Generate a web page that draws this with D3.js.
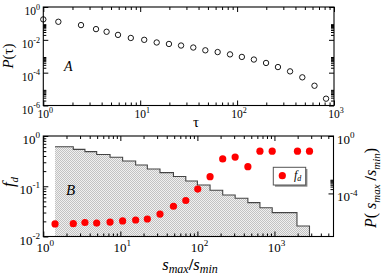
<!DOCTYPE html>
<html><head><meta charset="utf-8">
<script src="https://cdn.jsdelivr.net/npm/d3@7"></script>
<style>body{margin:0;background:#fff}svg{display:block}</style>
</head><body>
<script>
// ---- Data (panel A) ----
const tauValues = [1, 1.43, 2.45, 3.5, 4.5, 5.9, 8.0, 11, 14.8, 19.8, 26.4, 35.3, 47, 63, 84.5, 112, 149, 199, 264, 352, 471, 629, 828];
const pTau = [0.176, 0.126, 0.079, 0.045, 0.031, 0.020, 0.013, 0.010, 0.0069, 0.0056, 0.0045, 0.0034, 0.0023, 0.0018, 0.0013, 9.1e-4, 6.3e-4, 3.9e-4, 2.2e-4, 1.2e-4, 5.2e-5, 1.6e-5, 2.6e-6];
// ---- Data (panel B) ----
const histEdges = [1.42, 2.45, 3.47, 4.93, 7.35, 10.7, 15.8, 22.4, 32.7, 48.9, 70.7, 100, 146, 213, 309, 452, 648, 935, 1360, 1960, 2850];
const histP = [0.18, 0.117, 0.081, 0.052, 0.033, 0.018, 0.0095, 0.005, 0.0028, 0.0015, 7.4e-4, 3.9e-4, 1.66e-4, 7.8e-5, 4.6e-5, 2.3e-5, 1.0e-5, 4.6e-6, 4.6e-6, 5.4e-7];
const fdX = [1.42, 2.45, 3.47, 4.93, 7.35, 10.7, 15.8, 22.4, 32.7, 48.9, 70.7, 101, 146, 213, 309, 452, 648, 935, 1990, 2850];
const fdValues = [0.0178, 0.018, 0.019, 0.0185, 0.0194, 0.0204, 0.0213, 0.0223, 0.028, 0.040, 0.052, 0.088, 0.155, 0.35, 0.38, 0.245, 0.50, 0.50, 0.50, 0.50];
// ---- Tick labels ----
const topXTicks = [1, 10, 100, 1000];
const topYTicks = [1e-6, 1e-4, 1e-2, 1];
const botXTicks = [1, 10, 100, 1000];
const botYLTicks = [1e-2, 1e-1, 1];
const botYRTicks = [1e-4, 1];

const W = 382, H = 275;
const svg = d3.select("body").append("svg").attr("width", W).attr("height", H);
const SERIF = "'Liberation Serif','Times New Roman',serif";

const defs = svg.append("defs");
const pat = defs.append("pattern").attr("id", "hatch").attr("width", 2).attr("height", 2).attr("patternUnits", "userSpaceOnUse");
pat.append("rect").attr("width", 2).attr("height", 2).attr("fill", "#f0f0f0");
pat.append("rect").attr("x", 0).attr("y", 0).attr("width", 1).attr("height", 1).attr("fill", "#c2c2c2");
pat.append("rect").attr("x", 1).attr("y", 1).attr("width", 1).attr("height", 1).attr("fill", "#c2c2c2");

function minorsOf(majors, domain, allDecades) {
  const out = [];
  const lo = Math.min(...domain), hi = Math.max(...domain);
  let list = majors;
  if (allDecades) {
    list = [];
    for (let e = Math.floor(Math.log10(lo)); e <= Math.ceil(Math.log10(hi)); e++) list.push(Math.pow(10, e));
  }
  list.forEach(m => { for (let k = 2; k <= 9; k++) { const v = k * m; if (v > lo * 1.0001 && v < hi * 0.9999) out.push(v); } });
  return out;
}
function expOf(v) { return Math.round(Math.log10(v)); }
function tickAxis(g, axisFn, scale, vals, len) {
  g.call(axisFn(scale).tickValues(vals).tickSize(-len).tickFormat(""))
   .call(s => s.select(".domain").remove())
   .call(s => s.selectAll(".tick line").attr("stroke", "#000").attr("stroke-width", 1));
}
function powLabel(g, x, y, v, fs, anchor) {
  const t = g.append("text").attr("x", x).attr("y", y).attr("text-anchor", anchor)
    .attr("font-family", SERIF).attr("font-size", fs).attr("fill", "#000");
  t.append("tspan").text("10");
  t.append("tspan").attr("dy", -fs * 0.45).attr("font-size", fs * 0.7).text(String(expOf(v)));
}

// ================= Panel A =================
const ax = d3.scaleLog().domain([1, 1000]).range([43.3, 334]);
const ay = d3.scaleLog().domain([1e-6, 1]).range([105.5, 7]);
const gA = svg.append("g");
const aXmin = minorsOf(topXTicks, ax.domain(), true);
const aYmin = minorsOf(topYTicks, ay.domain(), false);
tickAxis(gA.append("g").attr("transform", `translate(0,${ay.range()[0]})`), d3.axisBottom, ax, topXTicks, 5);
tickAxis(gA.append("g").attr("transform", `translate(0,${ay.range()[0]})`), d3.axisBottom, ax, aXmin, 3);
tickAxis(gA.append("g").attr("transform", `translate(0,${ay.range()[1]})`), d3.axisTop, ax, topXTicks, 5);
tickAxis(gA.append("g").attr("transform", `translate(0,${ay.range()[1]})`), d3.axisTop, ax, aXmin, 3);
tickAxis(gA.append("g").attr("transform", `translate(${ax.range()[0]},0)`), d3.axisLeft, ay, topYTicks, 5);
tickAxis(gA.append("g").attr("transform", `translate(${ax.range()[0]},0)`), d3.axisLeft, ay, aYmin, 3);
tickAxis(gA.append("g").attr("transform", `translate(${ax.range()[1]},0)`), d3.axisRight, ay, topYTicks, 5);
tickAxis(gA.append("g").attr("transform", `translate(${ax.range()[1]},0)`), d3.axisRight, ay, aYmin, 3);

gA.selectAll("circle.pt").data(tauValues).join("circle").attr("class", "pt")
  .attr("cx", (d) => ax(d)).attr("cy", (d, i) => ay(pTau[i])).attr("r", 2.7)
  .attr("fill", "#fff").attr("stroke", "#000").attr("stroke-width", 0.9);

gA.append("rect").attr("x", ax.range()[0]).attr("y", ay.range()[1])
  .attr("width", ax.range()[1] - ax.range()[0]).attr("height", ay.range()[0] - ay.range()[1])
  .attr("fill", "none").attr("stroke", "#000").attr("stroke-width", 1.1);

topXTicks.forEach(v => powLabel(gA, ax(v) + 2, 118, v, 11.5, "middle"));
topYTicks.forEach(v => powLabel(gA, 40, ay(v) + 8, v, 11.5, "end"));
gA.append("text").attr("x", 196).attr("y", 127).attr("text-anchor", "middle")
  .attr("font-family", SERIF).attr("font-size", 15).text("τ");
gA.append("text").attr("transform", "translate(13,56) rotate(-90)").attr("text-anchor", "middle")
  .attr("font-family", SERIF).attr("font-size", 15)
  .call(t => { t.append("tspan").attr("font-style", "italic").text("P"); t.append("tspan").text("(τ)"); });
gA.append("text").attr("x", 64).attr("y", 71).attr("font-family", SERIF).attr("font-style", "italic")
  .attr("font-size", 14).text("A");

// ================= Panel B =================
const bx = d3.scaleLog().domain([1, 5840]).range([43.3, 333.5]);
const byL = d3.scaleLog().domain([1e-2, 1]).range([236.5, 136]);
const byR = d3.scaleLog().domain([1e-7, 1]).range([236.5, 136]);
const gB = svg.append("g");

const histPts = histP.map((p, i) => ({ x: histEdges[i], p }));
histPts.push({ x: histEdges[histEdges.length - 1], p: histP[histP.length - 1] });
const area = d3.area().curve(d3.curveStepAfter).x(d => bx(d.x)).y0(byR.range()[0]).y1(d => byR(d.p));
gB.append("path").datum(histPts).attr("d", area).attr("fill", "url(#hatch)");
const linePts = histPts.concat([{ x: histEdges[histEdges.length - 1], p: 1e-7 }]);
const line = d3.line().curve(d3.curveStepAfter).x(d => bx(d.x)).y(d => byR(d.p));
gB.append("path").datum(linePts).attr("d", line).attr("fill", "none").attr("stroke", "#444").attr("stroke-width", 1.1);

gB.selectAll("circle.fd").data(fdX).join("circle").attr("class", "fd")
  .attr("cx", d => bx(d)).attr("cy", (d, i) => byL(fdValues[i])).attr("r", 3.6).attr("fill", "#ff0000");

const bXmin = minorsOf(botXTicks, bx.domain(), true);
const bYLmin = minorsOf(botYLTicks, byL.domain(), false);
const bYRmin = minorsOf(botYRTicks, byR.domain(), false);
tickAxis(gB.append("g").attr("transform", `translate(0,${byL.range()[0]})`), d3.axisBottom, bx, botXTicks, 5);
tickAxis(gB.append("g").attr("transform", `translate(0,${byL.range()[0]})`), d3.axisBottom, bx, bXmin, 3);
tickAxis(gB.append("g").attr("transform", `translate(0,${byL.range()[1]})`), d3.axisTop, bx, botXTicks, 5);
tickAxis(gB.append("g").attr("transform", `translate(0,${byL.range()[1]})`), d3.axisTop, bx, bXmin, 3);
tickAxis(gB.append("g").attr("transform", `translate(${bx.range()[0]},0)`), d3.axisLeft, byL, botYLTicks, 5);
tickAxis(gB.append("g").attr("transform", `translate(${bx.range()[0]},0)`), d3.axisLeft, byL, bYLmin, 3);
tickAxis(gB.append("g").attr("transform", `translate(${bx.range()[1]},0)`), d3.axisRight, byR, botYRTicks, 5);
tickAxis(gB.append("g").attr("transform", `translate(${bx.range()[1]},0)`), d3.axisRight, byR, bYRmin, 3);

gB.append("rect").attr("x", bx.range()[0]).attr("y", byL.range()[1])
  .attr("width", bx.range()[1] - bx.range()[0]).attr("height", byL.range()[0] - byL.range()[1])
  .attr("fill", "none").attr("stroke", "#000").attr("stroke-width", 1.1);

botXTicks.forEach(v => powLabel(gB, bx(v) + 2, 252, v, 13, "middle"));
botYLTicks.forEach(v => powLabel(gB, 40, byL(v) + 8, v, 13, "end"));
botYRTicks.forEach(v => powLabel(gB, 337, byR(v) + 8, v, 13, "start"));

gB.append("text").attr("x", 66).attr("y", 195).attr("font-family", SERIF).attr("font-style", "italic")
  .attr("font-size", 15).text("B");
// left title f_d
gB.append("text").attr("transform", "translate(14,182) rotate(-90)").attr("text-anchor", "middle")
  .attr("font-family", SERIF).attr("font-style", "italic").attr("font-size", 17)
  .call(t => { t.append("tspan").text("f"); t.append("tspan").attr("dy", 4).attr("font-size", 11).text("d"); });
// x title
gB.append("text").attr("x", 190).attr("y", 270).attr("text-anchor", "middle")
  .attr("font-family", SERIF).attr("font-style", "italic").attr("font-size", 16.5)
  .call(t => {
    t.append("tspan").text("s");
    t.append("tspan").attr("dy", 3).attr("font-size", 12).text("max");
    t.append("tspan").attr("dy", -3).attr("font-style", "normal").attr("font-weight", "bold").text("/");
    t.append("tspan").text("s");
    t.append("tspan").attr("dy", 3).attr("font-size", 12).text("min");
  });
// right title
gB.append("text").attr("transform", "translate(376,188) rotate(-90)").attr("text-anchor", "middle")
  .attr("font-family", SERIF).attr("font-size", 16)
  .call(t => {
    t.append("tspan").attr("font-style", "italic").text("P");
    t.append("tspan").text("( ");
    t.append("tspan").attr("font-style", "italic").text("s");
    t.append("tspan").attr("dy", 4).attr("font-size", 11).attr("font-style", "italic").text("max");
    t.append("tspan").attr("dy", -4).attr("font-weight", "bold").text(" /");
    t.append("tspan").attr("font-style", "italic").text("s");
    t.append("tspan").attr("dy", 4).attr("font-size", 11).attr("font-style", "italic").text("min");
    t.append("tspan").attr("dy", -4).text(")");
  });

// legend
const lg = gB.append("g");
lg.append("rect").attr("x", 275).attr("y", 169).attr("width", 32.4).attr("height", 17.7).attr("fill", "#888");
lg.append("rect").attr("x", 273.3).attr("y", 167.3).attr("width", 32.4).attr("height", 17.7)
  .attr("fill", "#fff").attr("stroke", "#555").attr("stroke-width", 1);
lg.append("circle").attr("cx", 282.3).attr("cy", 175.7).attr("r", 3.6).attr("fill", "#ff0000");
lg.append("text").attr("x", 294).attr("y", 179).attr("font-family", SERIF).attr("font-style", "italic")
  .attr("font-size", 12)
  .call(t => { t.append("tspan").text("f"); t.append("tspan").attr("dy", 2).attr("font-size", 8).text("d"); });
</script>
</body></html>
